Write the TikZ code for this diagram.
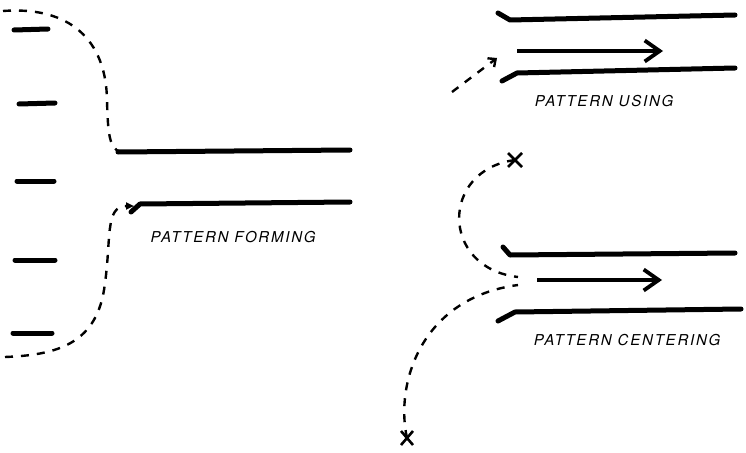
\documentclass[tikz,border=0pt]{standalone}
\usepackage{fontspec}
\setsansfont{TeX Gyre Heros}
\usetikzlibrary{arrows.meta,calc}
\begin{document}
\begin{tikzpicture}[x=1pt,y=-1pt,
  wall/.style={line width=5pt, line cap=round, line join=round},
  field/.style={line width=5pt, line cap=round},
  flow/.style={line width=2.4pt, dash pattern=on 8pt off 8pt},
  mainarrow/.style={line width=3.8pt, -{Straight Barb[length=15pt,width=21pt,line width=3.8pt]}},
  caption/.style={font=\sffamily\itshape\fontsize{15}{17}\selectfont\addfontfeatures{LetterSpace=12}, inner sep=0pt},
  cross/.style={line width=2.6pt}]
\useasboundingbox (0,0) rectangle (746,452);

% --- pattern forming: field dashes on the left
\draw[field] (14,30) -- (48,29);
\draw[field] (19,104) -- (55,103);
\draw[field] (17,181) -- (54,181);
\draw[field] (15,260) -- (55,260);
\draw[field] (13,333) -- (52,333);

% channel walls
\draw[wall] (118,152) -- (350,150);
\draw[wall] (131,212) -- (140,204) -- (350,202);

% flow lines converging into the channel
\draw[flow] (3,11) .. controls (70,6) and (106,40) .. (107,100)
            .. controls (108,140) and (110,152) .. (126,153);
\draw[flow, -{Triangle[length=8pt,width=7pt]}] (5,357) .. controls (55,355) and (95,345) .. (104,290)
            .. controls (112,240) and (104,206) .. (134,206);

\node[caption] (forming) at (233,237) {PATTERN FORMING};

% --- pattern using
\draw[wall] (498,13) -- (510,20) -- (735,15);
\draw[mainarrow] (517,51) -- (663,51);
\draw[wall] (502,81) -- (517,73) -- (735,68);
\draw[flow, -{Straight Barb[length=6pt,width=11pt,line width=2.4pt]}] (452,92) -- (497,58);

\node[caption] (using) at (604,101) {PATTERN USING};

% --- pattern centering
\draw[wall] (503,247) -- (510,255) -- (735,253);
\draw[mainarrow] (537,280) -- (662,280);
\draw[wall] (498,321) -- (515,312) -- (741,309);

\coordinate (x1) at (515,160);
\coordinate (x2) at (407,438);
\draw[cross] ($(x1)+(-7,-7)$) -- ($(x1)+(7,7)$) ($(x1)+(-7,7)$) -- ($(x1)+(7,-7)$);
\draw[cross] ($(x2)+(-6,-7)$) -- ($(x2)+(6,7)$) ($(x2)+(-6,7)$) -- ($(x2)+(6,-7)$);

\draw[flow] (x1) .. controls (440,170) and (440,268) .. (518,277);
\draw[flow] (x2) .. controls (395,385) and (420,298) .. (518,285);

\node[caption] (centering) at (627,340) {PATTERN CENTERING};
\end{tikzpicture}
\end{document}
